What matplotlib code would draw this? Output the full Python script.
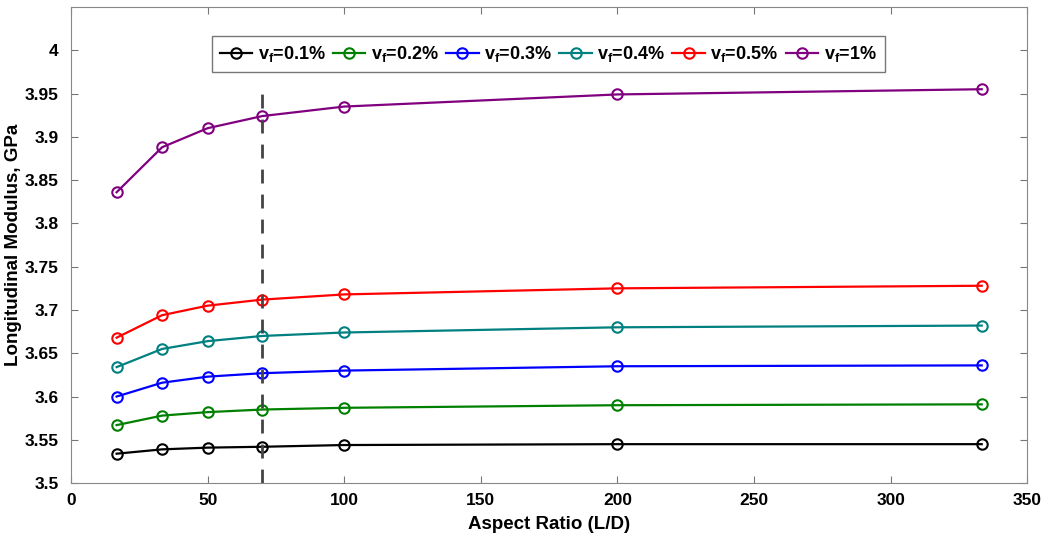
import numpy as np
import matplotlib.pyplot as plt

plt.rcParams['font.family'] = ['Liberation Sans', 'DejaVu Sans']
plt.rcParams['font.weight'] = 'bold'
plt.rcParams['mathtext.fontset'] = 'custom'
plt.rcParams['mathtext.rm'] = 'Liberation Sans:bold'
plt.rcParams['mathtext.it'] = 'Liberation Sans:bold'

# aspect ratios (L/D)
aspect = [16.67, 33.33, 50, 70, 100, 200, 333.33]

# longitudinal modulus (GPa) for each fibre volume fraction
E_01 = [3.534, 3.539, 3.541, 3.542, 3.544, 3.545, 3.545]
E_02 = [3.567, 3.578, 3.582, 3.585, 3.587, 3.590, 3.591]
E_03 = [3.600, 3.616, 3.623, 3.627, 3.630, 3.635, 3.636]
E_04 = [3.634, 3.655, 3.664, 3.670, 3.674, 3.680, 3.682]
E_05 = [3.668, 3.694, 3.705, 3.712, 3.718, 3.725, 3.728]
E_1 = [3.836, 3.888, 3.910, 3.924, 3.935, 3.949, 3.955]

labels = ['v$_{\\rm f}$=0.1%', 'v$_{\\rm f}$=0.2%', 'v$_{\\rm f}$=0.3%',
          'v$_{\\rm f}$=0.4%', 'v$_{\\rm f}$=0.5%', 'v$_{\\rm f}$=1%']
colors = ['black', '#008000', '#0000ff', '#008080', '#ff0000', '#800080']

critical_ar = 70

fig = plt.figure(figsize=(10.45, 5.38), dpi=100)
ax = fig.add_axes([0.068, 0.102, 0.915, 0.885])

for E, lab, c in zip([E_01, E_02, E_03, E_04, E_05, E_1], labels, colors):
    ax.plot(aspect, E, '-o', color=c, lw=1.6, ms=7.5, mfc='none', mew=1.5, label=lab)

ax.plot([critical_ar, critical_ar], [3.5, 3.962], '--', color='#444444', lw=2, dashes=(5, 4))

ax.set_xlim(0, 350)
ax.set_ylim(3.5, 4.05)
ax.set_xticks(np.arange(0, 351, 50))
ax.set_yticks(np.arange(3.5, 4.001, 0.05))
ax.set_yticklabels(['3.5', '3.55', '3.6', '3.65', '3.7', '3.75', '3.8',
                    '3.85', '3.9', '3.95', '4'])
ax.tick_params(direction='in', top=True, right=True, labelsize=12.5,
               color='#777777', length=5)
ax.tick_params(axis='x', pad=7)
ax.tick_params(axis='y', pad=9)
for s in ax.spines.values():
    s.set_color('#888888')

ax.set_xlabel('Aspect Ratio (L/D)', fontsize=13.5, fontweight='bold', labelpad=6)
ax.set_ylabel('Longitudinal Modulus, GPa', fontsize=13.5, fontweight='bold', labelpad=2)

leg = ax.legend(loc='upper center', bbox_to_anchor=(0.499, 0.958), ncol=6,
                fontsize=13, handlelength=1.8, handletextpad=0.3,
                columnspacing=0.4, frameon=True, fancybox=False, borderpad=0.45)
leg.get_frame().set_edgecolor('#555555')
leg.get_frame().set_linewidth(1)

fig.savefig('out.png', dpi=100)
